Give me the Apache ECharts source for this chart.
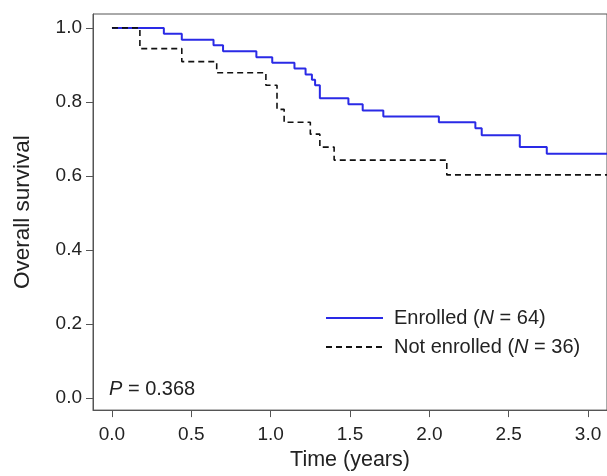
<!DOCTYPE html>
<html>
<head>
<meta charset="utf-8">
<script src="https://cdn.jsdelivr.net/npm/echarts@6/dist/echarts.min.js"></script>
<style>
  html, body { margin: 0; padding: 0; background: #fff; }
</style>
</head>
<body>
<div id="chart" style="width: 607px; height: 476px;"></div>
<script>
// step times (years) and survival from that time on
var enrolledTime = [0, 0.327, 0.44, 0.64, 0.70, 0.91, 1.01, 1.15, 1.22, 1.26, 1.28, 1.31, 1.49, 1.58, 1.71, 2.06, 2.29, 2.33, 2.57, 2.74, 3.12];
var enrolledSurv = [1.0, 0.984, 0.968, 0.953, 0.937, 0.921, 0.906, 0.890, 0.874, 0.860, 0.845, 0.810, 0.794, 0.777, 0.761, 0.745, 0.729, 0.710, 0.678, 0.660, 0.660];
var notEnrolledTime = [0, 0.176, 0.44, 0.66, 0.97, 1.04, 1.085, 1.25, 1.31, 1.40, 2.11, 3.12];
var notEnrolledSurv = [1.0, 0.944, 0.909, 0.879, 0.845, 0.780, 0.745, 0.713, 0.678, 0.643, 0.603, 0.603];
var xTicks = [0, 0.5, 1, 1.5, 2, 2.5, 3];
var yTicks = [0, 0.2, 0.4, 0.6, 0.8, 1.0];

function pairs(t, s) {
  return t.map(function (v, i) { return [v, s[i]]; });
}

var font = 'Arial, "Liberation Sans", sans-serif';
var chart = echarts.init(document.getElementById('chart'));
chart.setOption({
  animation: false,
  textStyle: { fontFamily: font },
  grid: {
    left: 93, top: 14, width: 515, height: 399,
    show: true, borderColor: '#555', borderWidth: 1
  },
  legend: {
    orient: 'vertical',
    left: 320, top: 303,
    itemWidth: 57, itemHeight: 20, itemGap: 9,
    itemStyle: { opacity: 0 },
    textStyle: {
      fontSize: 20, color: '#222', fontFamily: font,
      padding: [0, 0, 0, 6],
      rich: { i: { fontStyle: 'italic', fontSize: 20, color: '#222', fontFamily: font } }
    },
    formatter: function (name) { return name.replace('(N', '({i|N}'); },
    data: ['Enrolled (N = 64)', 'Not enrolled (N = 36)']
  },
  xAxis: {
    type: 'value',
    min: -0.1195, max: 3.1195,
    name: 'Time (years)',
    nameLocation: 'middle', nameGap: 38,
    nameTextStyle: { fontSize: 21.5, color: '#222' },
    splitLine: { show: false },
    axisLine: { onZero: false, lineStyle: { color: '#555' } },
    axisTick: { length: 7, lineStyle: { color: '#555' }, customValues: xTicks },
    axisLabel: {
      fontSize: 19, color: '#222', margin: 15,
      customValues: xTicks,
      formatter: function (v) { return v.toFixed(1); }
    }
  },
  yAxis: {
    type: 'value',
    min: -0.0322, max: 1.0375,
    name: 'Overall survival',
    nameLocation: 'middle', nameGap: 59,
    nameTextStyle: { fontSize: 22.5, color: '#222' },
    splitLine: { show: false },
    axisLine: { show: true, onZero: false, lineStyle: { color: '#555' } },
    axisTick: { show: true, length: 7, lineStyle: { color: '#555' }, customValues: yTicks },
    axisLabel: {
      fontSize: 19, color: '#222', margin: 11,
      customValues: yTicks,
      formatter: function (v) { return v.toFixed(1); }
    }
  },
  graphic: [{
    type: 'text',
    left: 109, top: 379,
    style: {
      text: '{i|P} = 0.368',
      fontSize: 20, fill: '#222', fontFamily: font,
      rich: { i: { fontStyle: 'italic', fontSize: 20, fontFamily: font } }
    }
  }],
  series: [{
    name: 'Enrolled (N = 64)',
    type: 'line',
    step: 'end',
    symbol: 'none',
    color: '#2a2ae6',
    lineStyle: { width: 2, color: '#2a2ae6' },
    data: pairs(enrolledTime, enrolledSurv)
  }, {
    name: 'Not enrolled (N = 36)',
    type: 'line',
    step: 'end',
    symbol: 'none',
    color: '#111',
    lineStyle: { width: 1.6, color: '#111', type: [6, 4] },
    data: pairs(notEnrolledTime, notEnrolledSurv)
  }]
});
</script>
</body>
</html>
